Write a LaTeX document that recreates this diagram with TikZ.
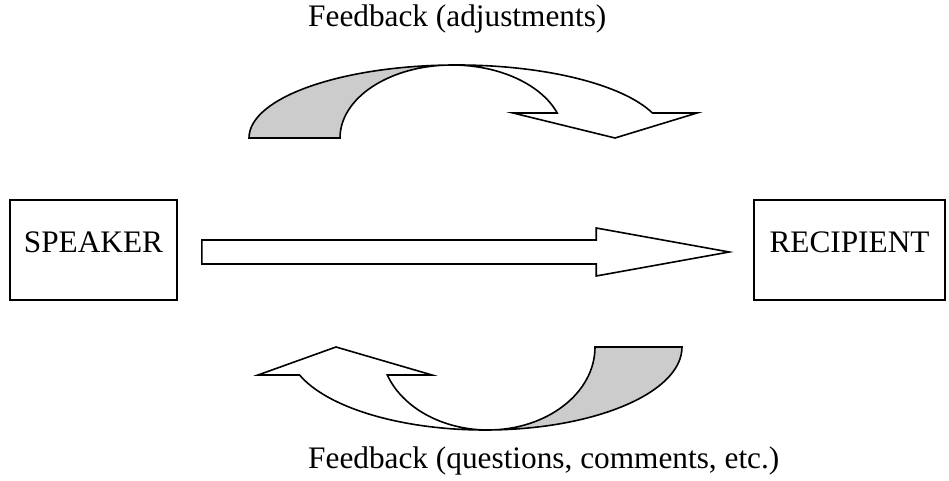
\documentclass[tikz,border=0pt]{standalone}
\usepackage{fontspec}
\setmainfont{Liberation Serif}
\usetikzlibrary{calc}
\definecolor{backshade}{RGB}{204,204,204}
\begin{document}
\begin{tikzpicture}[x=1pt,y=1pt,
  outline/.style={draw=black, line width=1.6pt},
  party/.style={outline, fill=white, minimum width=#1, minimum height=100pt,
    inner sep=0pt, text height=20.7pt, text depth=15pt,
    font=\fontsize{31.3}{36}\selectfont},
  caption/.style={inner sep=0pt, anchor=base west,
    font=\fontsize{31.3}{36}\selectfont}]
\useasboundingbox (0,0) rectangle (949,481);

% the two parties
\node[party=167pt] (speaker) at (93.5,231) {SPEAKER};
\node[party=191pt] (recipient) at (849.5,231) {RECIPIENT};

% straight block arrow from speaker to recipient
\coordinate (tail) at ($(speaker.east)+(24,-2)$);
\coordinate (tip) at ($(recipient.west)+(-24,-2)$);
\draw[outline, fill=white]
  ($(tail)+(0,12)$) -- ($(tip)+(-133,12)$) -- ($(tip)+(-133,24)$) -- (tip)
  -- ($(tip)+(-133,-24)$) -- ($(tip)+(-133,-12)$) -- ($(tail)+(0,-12)$) -- cycle;

% upper curved arrow: shaded back part
\filldraw[outline, fill=backshade]
  (249,343) arc[start angle=180, end angle=90, x radius=208pt, y radius=73pt]
  -- (452,416) arc[start angle=90, end angle=180, x radius=112pt, y radius=73pt]
  -- cycle;
% upper curved arrow: front part with head
\draw[outline, fill=white]
  (452,416) arc[start angle=90, end angle=20.03, x radius=112pt, y radius=73pt]
  -- (513,368) -- (615,343) -- (697,368) -- (652.4,368)
  arc[start angle=20.03, end angle=90, x radius=208pt, y radius=73pt]
  -- cycle;

% lower curved arrow: shaded back part
\filldraw[outline, fill=backshade]
  (595,134) arc[start angle=0, end angle=-90, x radius=107pt, y radius=83pt]
  -- (485,51) arc[start angle=-90, end angle=0, x radius=197pt, y radius=83pt]
  -- cycle;
% lower curved arrow: front part with head
\draw[outline, fill=white]
  (485,51) arc[start angle=270, end angle=199.71, x radius=197pt, y radius=83pt]
  -- (258,106) -- (336,134) -- (432,106) -- (387.3,106)
  arc[start angle=199.71, end angle=270, x radius=107pt, y radius=83pt]
  -- cycle;

% captions
\node[caption] (fbtop) at (308,454) {Feedback (adjustments)};
\node[caption] (fbbottom) at (308,12) {Feedback (questions, comments, etc.)};
\end{tikzpicture}
\end{document}
